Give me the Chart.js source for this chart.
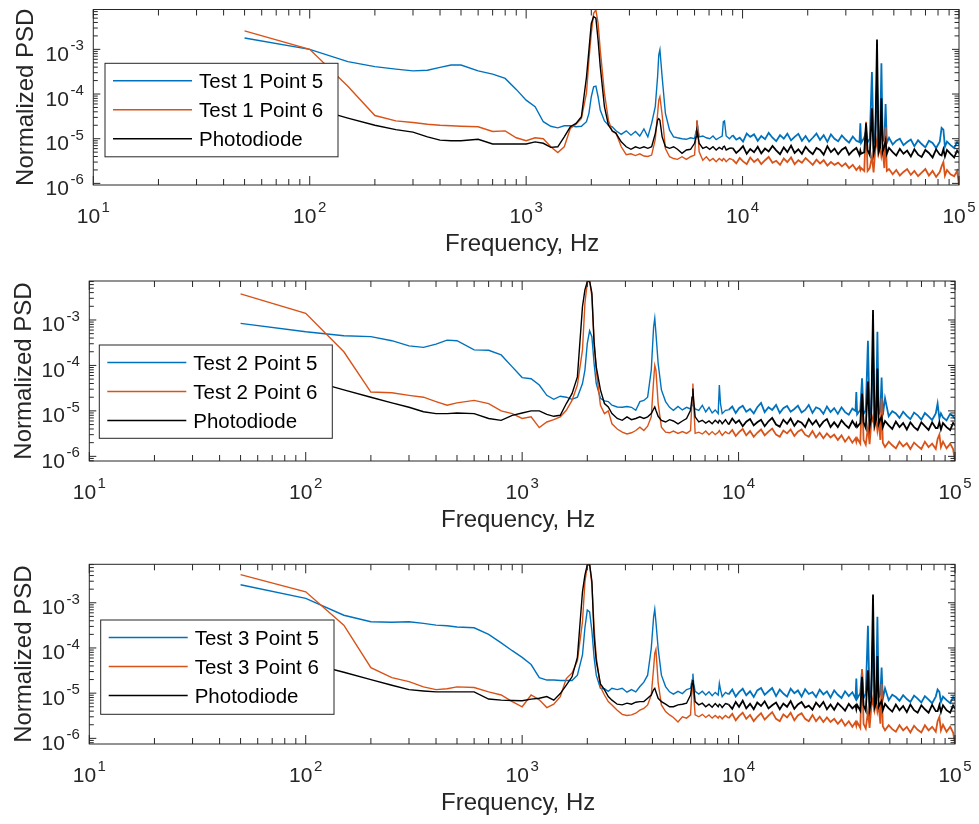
<!DOCTYPE html>
<html>
<head>
<meta charset="utf-8">
<script src="https://cdn.jsdelivr.net/npm/chart.js@4.4.0/dist/chart.umd.min.js"></script>
<style>
  body { margin: 0; background: #fff; }
  #wrap { position: relative; width: 979px; height: 824px; overflow: hidden; }
  canvas { position: absolute; left: 0; }
</style>
</head>
<body>
<div id="wrap">
  <canvas id="c1" width="979" height="270" style="top:0px"></canvas>
  <canvas id="c2" width="979" height="275" style="top:270px"></canvas>
  <canvas id="c3" width="979" height="279" style="top:545px"></canvas>
</div>
<script>
// frequency grid (Hz), shared by every trace
const freq = [
  50, 100, 150, 200, 250, 300, 350, 400, 450, 500,
  600, 700, 800, 900, 1000, 1100, 1200, 1300, 1400, 1500,
  1600, 1700, 1800, 1900, 1950, 2000, 2050, 2100, 2150, 2200,
  2300, 2400, 2500, 2600, 2750, 2900, 3050, 3200, 3350, 3500,
  3650, 3800, 3950, 4050, 4100, 4150, 4250, 4400, 4600, 4800,
  5000, 5250, 5500, 5750, 6000, 6100, 6150, 6200, 6300, 6550,
  6800, 7050, 7300, 7550, 7800, 8050, 8150, 8250, 8400, 8700,
  9000, 9350, 9700, 10050, 10450, 10850, 11300, 11750, 12200, 12700,
  13200, 13750, 14300, 14900, 15500, 16100, 16750, 17400, 18100, 18800,
  19550, 20300, 21100, 21950, 22800, 23700, 24650, 25600, 26600, 27650,
  28750, 29900, 31050, 32300, 33550, 34700, 35000, 35300, 36500, 37200,
  37800, 38700, 39600, 40300, 41000, 41800, 42500, 43200, 43800, 44400,
  45200, 45800, 46400, 47500, 49400, 51300, 53300, 55400, 57600, 59900,
  62200, 64700, 67200, 69900, 72600, 75500, 78400, 81500, 83100, 84700,
  86100, 88000, 91400, 95000, 98000, 100000
];

// ---- Test 1 ----
const p1Blue = [
  1.8e-3, 1.0e-3, 5.3e-4, 4.1e-4, 3.6e-4, 3.3e-4, 3.4e-4, 3.95e-4, 4.45e-4, 4.45e-4,
  3.3e-4, 2.8e-4, 2.24e-4, 1.27e-4, 7.3e-5, 5.2e-5, 2.4e-5, 1.9e-5, 1.75e-5, 1.95e-5,
  1.95e-5, 1.85e-5, 1.9e-5, 2.4e-5, 3.7e-5, 8.7e-5, 1.45e-4, 1.5e-4, 8.7e-5, 4.4e-5,
  2.5e-5, 2.0e-5, 1.85e-5, 1.5e-5, 1.25e-5, 1.5e-5, 1.2e-5, 1.45e-5, 1.15e-5, 1.65e-5,
  1.1e-5, 2.2e-5, 5.2e-5, 2.5e-4, 7.5e-4, 9.8e-4, 2.4e-4, 3.7e-5, 1.55e-5, 1.1e-5,
  1.05e-5, 1.0e-5, 9.7e-6, 1.05e-5, 1.0e-5, 1.5e-5, 2.5e-5, 1.9e-5, 1.1e-5, 1.15e-5,
  1.05e-5, 1.0e-5, 1.15e-5, 9.5e-6, 1.05e-5, 1.15e-5, 2.4e-5, 2.5e-5, 1.15e-5, 1.0e-5,
  1.2e-5, 9.5e-6, 1.05e-5, 8.6e-6, 1.3e-5, 1.1e-5, 1.25e-5, 9.0e-6, 1.15e-5, 9.8e-6,
  1.35e-5, 1.05e-5, 8.8e-6, 1.2e-5, 1.0e-5, 1.3e-5, 9.2e-6, 1.1e-5, 1.28e-5, 9.0e-6,
  1.15e-5, 8.6e-6, 1.05e-5, 1.3e-5, 9.4e-6, 1.2e-5, 8.5e-6, 1.25e-5, 1.0e-5, 8.8e-6,
  1.18e-5, 9.6e-6, 8.2e-6, 1.12e-5, 9.0e-6, 8.4e-6, 2.2e-5, 8.0e-6, 1.05e-5, 1.5e-5,
  8.2e-6, 1.0e-5, 3.1e-4, 7.8e-6, 1.05e-5, 2.0e-4, 8.4e-6, 1.05e-5, 4.9e-4, 8.8e-6,
  1.0e-5, 6.0e-5, 8.0e-6, 1.05e-5, 7.4e-6, 9.0e-6, 1.0e-5, 7.2e-6, 8.4e-6, 9.6e-6,
  6.8e-6, 9.2e-6, 7.6e-6, 6.4e-6, 9.0e-6, 8.0e-6, 6.2e-6, 8.6e-6, 1.75e-5, 1.6e-5,
  6.6e-6, 8.6e-6, 7.2e-6, 6.2e-6, 8.4e-6, 7.5e-6
];
const p1Orange = [
  2.6e-3, 1.0e-3, 1.5e-4, 3.3e-5, 2.5e-5, 2.3e-5, 2.1e-5, 2.0e-5, 1.95e-5, 1.9e-5,
  1.85e-5, 1.45e-5, 1.5e-5, 1.05e-5, 9.0e-6, 1.05e-5, 1.0e-5, 6.6e-6, 4.9e-6, 6.6e-6,
  1.7e-5, 2.1e-5, 2.85e-5, 1.05e-4, 5.8e-4, 2.3e-3, 6.4e-3, 7.6e-3, 3.8e-3, 9.6e-4,
  1.05e-4, 2.6e-5, 1.45e-5, 1.35e-5, 6.6e-6, 4.4e-6, 4.6e-6, 4.2e-6, 4.6e-6, 4.1e-6,
  4.0e-6, 4.3e-6, 9.6e-6, 3.7e-5, 7.3e-5, 8.7e-5, 3.4e-5, 6.0e-6, 3.95e-6, 3.6e-6,
  3.45e-6, 3.95e-6, 3.45e-6, 3.95e-6, 4.3e-6, 1.35e-5, 2.6e-5, 1.9e-5, 5.1e-6, 3.3e-6,
  3.95e-6, 3.2e-6, 3.6e-6, 3.05e-6, 3.6e-6, 3.2e-6, 3.6e-6, 3.45e-6, 3.05e-6, 3.6e-6,
  3.4e-6, 2.8e-6, 3.7e-6, 3.1e-6, 2.7e-6, 3.8e-6, 3.0e-6, 3.5e-6, 2.7e-6, 3.3e-6,
  3.9e-6, 2.9e-6, 3.2e-6, 2.6e-6, 3.6e-6, 3.0e-6, 3.8e-6, 2.7e-6, 3.3e-6, 2.9e-6,
  3.7e-6, 3.1e-6, 2.6e-6, 3.4e-6, 2.8e-6, 3.3e-6, 2.5e-6, 3.0e-6, 2.6e-6, 2.9e-6,
  2.4e-6, 2.8e-6, 2.2e-6, 2.6e-6, 2.0e-6, 2.4e-6, 2.0e-6, 2.2e-6, 1.9e-6, 2.4e-5,
  1.9e-6, 2.2e-6, 4.0e-6, 1.75e-6, 5.4e-6, 9.6e-6, 4.6e-6, 6.6e-6, 4.0e-6, 5.4e-6,
  2.2e-6, 1.8e-5, 1.9e-6, 2.1e-6, 1.6e-6, 2.0e-6, 1.5e-6, 1.8e-6, 2.1e-6, 1.55e-6,
  1.9e-6, 1.45e-6, 1.75e-6, 2.1e-6, 1.5e-6, 1.9e-6, 1.4e-6, 1.8e-6, 2.4e-6, 3.0e-6,
  1.5e-6, 2.0e-6, 1.6e-6, 1.45e-6, 1.9e-6, 9.2e-7
];
const p1Black = [
  8.0e-5, 5.1e-5, 2.9e-5, 2.0e-5, 1.6e-5, 1.4e-5, 1.1e-5, 9.3e-6, 9.0e-6, 9.0e-6,
  9.7e-6, 7.6e-6, 7.6e-6, 7.6e-6, 7.6e-6, 8.5e-6, 7.9e-6, 6.4e-6, 6.6e-6, 1.1e-5,
  1.85e-5, 2.2e-5, 3.1e-5, 2.4e-4, 9.6e-4, 3.8e-3, 5.4e-3, 5.0e-3, 1.6e-3, 4.1e-4,
  5.2e-5, 2.0e-5, 1.5e-5, 1.32e-5, 8.5e-6, 6.6e-6, 5.8e-6, 6.6e-6, 6.1e-6, 6.6e-6,
  6.1e-6, 6.6e-6, 1.3e-5, 2.6e-5, 2.8e-5, 2.6e-5, 1.1e-5, 6.6e-6, 6.1e-6, 6.6e-6,
  5.8e-6, 4.7e-6, 5.6e-6, 5.8e-6, 7.9e-6, 1.1e-5, 1.5e-5, 1.3e-5, 7.9e-6, 6.1e-6,
  6.6e-6, 5.8e-6, 6.6e-6, 5.6e-6, 6.4e-6, 5.8e-6, 6.6e-6, 6.8e-6, 5.6e-6, 6.1e-6,
  6.2e-6, 4.8e-6, 5.6e-6, 6.8e-6, 4.6e-6, 5.9e-6, 5.0e-6, 6.6e-6, 4.7e-6, 6.0e-6,
  5.2e-6, 6.9e-6, 5.5e-6, 4.5e-6, 6.4e-6, 5.0e-6, 7.0e-6, 4.8e-6, 5.8e-6, 4.6e-6,
  6.6e-6, 5.3e-6, 4.5e-6, 6.2e-6, 5.6e-6, 4.4e-6, 6.8e-6, 5.0e-6, 6.0e-6, 4.5e-6,
  5.7e-6, 6.4e-6, 4.4e-6, 5.4e-6, 6.2e-6, 4.3e-6, 5.4e-6, 4.6e-6, 5.0e-6, 2.2e-5,
  5.6e-6, 4.3e-6, 4.8e-5, 4.6e-6, 6.8e-6, 1.67e-3, 5.0e-6, 6.4e-6, 8.0e-5, 5.2e-6,
  6.8e-6, 9.0e-6, 4.6e-6, 6.2e-6, 5.0e-6, 4.2e-6, 5.9e-6, 4.6e-6, 5.4e-6, 4.0e-6,
  5.8e-6, 4.4e-6, 3.9e-6, 5.6e-6, 4.8e-6, 3.8e-6, 5.8e-6, 4.4e-6, 4.2e-6, 5.8e-6,
  4.0e-6, 5.6e-6, 4.6e-6, 3.8e-6, 5.4e-6, 4.7e-6
];

// ---- Test 2 ----
const p2Blue = [
  8.4e-4, 5.5e-4, 4.5e-4, 4.3e-4, 3.5e-4, 2.7e-4, 2.5e-4, 2.95e-4, 3.6e-4, 3.5e-4,
  2.2e-4, 2.15e-4, 1.7e-4, 9.3e-5, 5.4e-5, 5.1e-5, 3.7e-5, 2.2e-5, 1.8e-5, 2.1e-5,
  2.0e-5, 1.8e-5, 2.0e-5, 4.0e-5, 7.9e-5, 3.05e-4, 5.8e-4, 4.3e-4, 1.1e-4, 4.0e-5,
  1.9e-5, 1.66e-5, 1.6e-5, 1.33e-5, 1.22e-5, 1.2e-5, 1.25e-5, 1.2e-5, 1.03e-5, 1.6e-5,
  1.7e-5, 2.0e-5, 7.9e-5, 7.1e-4, 1.09e-3, 5.2e-4, 1.1e-4, 2.9e-5, 1.6e-5, 1.2e-5,
  1.03e-5, 1.25e-5, 1.05e-5, 1.2e-5, 1.1e-5, 1.33e-5, 1.6e-5, 1.33e-5, 1.1e-5, 1.03e-5,
  1.33e-5, 9.5e-6, 1.2e-5, 9.0e-6, 1.05e-5, 8.7e-6, 3.7e-5, 1.45e-5, 8.7e-6, 1.03e-5,
  1.05e-5, 1.25e-5, 9.0e-6, 1.15e-5, 1.3e-5, 9.6e-6, 1.1e-5, 8.8e-6, 1.2e-5, 1.5e-5,
  9.4e-6, 1.2e-5, 1.05e-5, 1.35e-5, 9.0e-6, 1.15e-5, 1.28e-5, 9.6e-6, 1.1e-5, 1.3e-5,
  9.2e-6, 1.05e-5, 1.35e-5, 9.0e-6, 1.2e-5, 1.1e-5, 8.6e-6, 1.25e-5, 9.4e-6, 1.15e-5,
  8.6e-6, 1.2e-5, 9.4e-6, 8.2e-6, 1.12e-5, 1.0e-5, 2.6e-5, 8.4e-6, 1.05e-5, 5.2e-5,
  8.6e-6, 1.02e-5, 3.5e-4, 7.8e-6, 1.05e-5, 2.0e-4, 8.2e-6, 1.0e-5, 5.5e-4, 8.4e-6,
  1.02e-5, 5.4e-5, 8.0e-6, 1.9e-5, 7.6e-6, 9.8e-6, 8.8e-6, 7.0e-6, 9.6e-6, 7.8e-6,
  6.6e-6, 9.2e-6, 8.0e-6, 6.4e-6, 9.0e-6, 7.6e-6, 6.3e-6, 8.8e-6, 1.45e-5, 6.8e-6,
  8.8e-6, 7.2e-6, 6.2e-6, 8.6e-6, 7.6e-6, 6.6e-6
];
const p2Orange = [
  3.75e-3, 1.4e-3, 2.0e-4, 2.6e-5, 2.5e-5, 2.2e-5, 2.0e-5, 1.6e-5, 1.33e-5, 1.5e-5,
  1.7e-5, 1.45e-5, 1.0e-5, 8.7e-6, 6.8e-6, 7.4e-6, 4.3e-6, 5.7e-6, 6.4e-6, 7.4e-6,
  1.03e-5, 1.7e-5, 3.7e-5, 2.2e-4, 2.3e-3, 6.8e-3, 7.2e-3, 3.3e-3, 3.6e-4, 7.9e-5,
  1.33e-5, 8.7e-6, 1.0e-5, 5.2e-6, 4.0e-6, 3.4e-6, 3.1e-6, 3.3e-6, 3.7e-6, 4.4e-6,
  3.7e-6, 4.6e-6, 7.4e-6, 4.7e-5, 1.0e-4, 7.9e-5, 1.45e-5, 4.4e-6, 3.4e-6, 3.3e-6,
  3.6e-6, 3.2e-6, 3.5e-6, 3.2e-6, 3.7e-6, 2.0e-5, 4.0e-5, 1.45e-5, 3.2e-6, 3.4e-6,
  3.1e-6, 3.6e-6, 3.0e-6, 3.5e-6, 3.0e-6, 3.4e-6, 3.7e-6, 3.3e-6, 2.9e-6, 3.5e-6,
  3.1e-6, 3.8e-6, 2.8e-6, 3.4e-6, 4.0e-6, 2.9e-6, 3.6e-6, 2.7e-6, 3.3e-6, 3.9e-6,
  2.9e-6, 3.5e-6, 4.1e-6, 3.0e-6, 2.7e-6, 3.7e-6, 3.2e-6, 3.9e-6, 2.8e-6, 3.5e-6,
  3.9e-6, 3.0e-6, 2.7e-6, 3.6e-6, 2.6e-6, 3.3e-6, 2.5e-6, 3.2e-6, 2.6e-6, 3.0e-6,
  2.3e-6, 2.9e-6, 2.1e-6, 2.7e-6, 2.0e-6, 2.5e-6, 2.1e-6, 2.5e-6, 1.9e-6, 2.4e-5,
  2.3e-6, 1.8e-6, 4.4e-6, 1.85e-6, 5.2e-6, 7.4e-6, 4.4e-6, 6.8e-6, 3.7e-6, 5.7e-6,
  2.3e-6, 1.9e-5, 2.0e-6, 1.6e-6, 2.1e-6, 1.75e-6, 1.5e-6, 2.1e-6, 1.65e-6, 1.95e-6,
  1.45e-6, 2.0e-6, 1.7e-6, 1.45e-6, 2.1e-6, 1.6e-6, 1.9e-6, 1.45e-6, 2.4e-6, 3.0e-6,
  1.6e-6, 2.1e-6, 1.5e-6, 1.9e-6, 1.45e-6, 7.9e-7
];
const p2Black = [
  9.0e-5, 5.0e-5, 2.9e-5, 2.0e-5, 1.5e-5, 1.2e-5, 9.6e-6, 8.7e-6, 8.7e-6, 9.0e-6,
  8.7e-6, 6.8e-6, 6.2e-6, 8.0e-6, 9.0e-6, 1.0e-5, 1.0e-5, 8.4e-6, 7.6e-6, 8.0e-6,
  1.45e-5, 2.4e-5, 5.6e-5, 1.97e-3, 4.6e-3, 7.0e-3, 7.2e-3, 3.9e-3, 3.05e-4, 9.3e-5,
  2.9e-5, 1.45e-5, 1.22e-5, 8.7e-6, 6.8e-6, 6.2e-6, 7.4e-6, 6.4e-6, 6.8e-6, 7.4e-6,
  6.8e-6, 7.4e-6, 8.7e-6, 1.1e-5, 1.22e-5, 1.03e-5, 7.6e-6, 6.2e-6, 5.7e-6, 6.4e-6,
  6.0e-6, 5.2e-6, 6.0e-6, 6.8e-6, 1.03e-5, 2.0e-5, 3.1e-5, 1.7e-5, 7.4e-6, 5.7e-6,
  6.2e-6, 5.4e-6, 6.0e-6, 5.2e-6, 6.2e-6, 5.4e-6, 6.2e-6, 6.0e-6, 5.2e-6, 6.4e-6,
  5.0e-6, 6.8e-6, 5.4e-6, 6.2e-6, 4.6e-6, 5.8e-6, 6.6e-6, 4.8e-6, 5.6e-6, 6.4e-6,
  4.6e-6, 5.9e-6, 7.0e-6, 5.0e-6, 4.5e-6, 6.4e-6, 5.2e-6, 6.8e-6, 4.7e-6, 6.0e-6,
  5.5e-6, 4.4e-6, 6.6e-6, 5.0e-6, 6.2e-6, 4.5e-6, 5.8e-6, 6.6e-6, 4.4e-6, 5.6e-6,
  4.4e-6, 6.2e-6, 5.0e-6, 4.2e-6, 6.0e-6, 4.6e-6, 5.2e-6, 4.4e-6, 5.4e-6, 2.4e-5,
  5.6e-6, 4.2e-6, 4.4e-5, 4.4e-6, 6.8e-6, 1.66e-3, 4.8e-6, 6.4e-6, 8.6e-5, 5.2e-6,
  6.6e-6, 7.4e-6, 4.4e-6, 6.0e-6, 4.8e-6, 4.0e-6, 5.8e-6, 4.4e-6, 5.4e-6, 3.9e-6,
  5.6e-6, 4.4e-6, 3.8e-6, 5.6e-6, 4.6e-6, 3.8e-6, 5.6e-6, 4.2e-6, 4.2e-6, 5.6e-6,
  3.9e-6, 5.4e-6, 4.4e-6, 3.8e-6, 5.4e-6, 4.8e-6
];

// ---- Test 3 ----
const p3Blue = [
  2.5e-3, 1.25e-3, 5.3e-4, 3.8e-4, 3.7e-4, 3.8e-4, 3.5e-4, 3.2e-4, 3.1e-4, 2.9e-4,
  2.8e-4, 2.0e-4, 1.3e-4, 8.7e-5, 6.2e-5, 4.3e-5, 2.2e-5, 1.95e-5, 1.95e-5, 1.9e-5,
  1.9e-5, 1.9e-5, 2.5e-5, 7.0e-5, 2.8e-4, 6.9e-4, 6.3e-4, 2.4e-4, 6.2e-5, 2.5e-5,
  1.28e-5, 1.25e-5, 1.1e-5, 1.28e-5, 1.2e-5, 1.28e-5, 1.05e-5, 1.2e-5, 1.07e-5, 1.4e-5,
  1.75e-5, 2.5e-5, 9.8e-5, 4.9e-4, 7.2e-4, 3.8e-4, 9.8e-5, 2.5e-5, 1.4e-5, 1.07e-5,
  9.5e-6, 1.1e-5, 9.8e-6, 1.2e-5, 1.28e-5, 1.95e-5, 2.7e-5, 1.65e-5, 1.1e-5, 9.5e-6,
  1.1e-5, 9.1e-6, 1.07e-5, 8.8e-6, 1.04e-5, 9.1e-6, 1.65e-5, 1.2e-5, 8.4e-6, 1.04e-5,
  9.4e-6, 1.2e-5, 8.4e-6, 1.05e-5, 1.25e-5, 9.0e-6, 1.1e-5, 8.2e-6, 1.15e-5, 1.3e-5,
  9.2e-6, 1.1e-5, 1.3e-5, 8.6e-6, 1.2e-5, 9.8e-6, 8.4e-6, 1.25e-5, 1.0e-5, 1.15e-5,
  8.4e-6, 1.22e-5, 9.6e-6, 1.05e-5, 8.2e-6, 1.2e-5, 9.4e-6, 1.1e-5, 8.0e-6, 1.15e-5,
  9.2e-6, 7.8e-6, 1.1e-5, 8.6e-6, 1.05e-5, 7.6e-6, 2.1e-5, 7.6e-6, 1.0e-5, 3.3e-5,
  7.8e-6, 9.6e-6, 3.1e-4, 7.4e-6, 1.0e-5, 2.0e-4, 7.8e-6, 9.6e-6, 4.9e-4, 8.0e-6,
  9.6e-6, 3.7e-5, 7.4e-6, 1.28e-5, 7.0e-6, 9.2e-6, 8.2e-6, 6.8e-6, 9.0e-6, 7.4e-6,
  6.4e-6, 8.8e-6, 7.6e-6, 6.2e-6, 8.6e-6, 7.2e-6, 6.0e-6, 8.4e-6, 1.2e-5, 1.07e-5,
  6.4e-6, 8.4e-6, 7.0e-6, 6.0e-6, 8.2e-6, 7.0e-6
];
const p3Orange = [
  4.2e-3, 1.75e-3, 3.2e-4, 3.65e-5, 2.2e-5, 1.8e-5, 1.38e-5, 1.2e-5, 1.25e-5, 1.38e-5,
  1.33e-5, 1.07e-5, 9.1e-6, 6.5e-6, 5.0e-6, 9.1e-6, 7.1e-6, 4.8e-6, 5.7e-6, 8.4e-6,
  2.1e-5, 2.8e-5, 5.2e-5, 3.8e-4, 2.9e-3, 6.6e-3, 7.1e-3, 2.5e-3, 2.8e-4, 6.2e-5,
  1.38e-5, 9.1e-6, 6.5e-6, 5.5e-6, 4.2e-6, 3.4e-6, 3.2e-6, 3.3e-6, 3.6e-6, 4.2e-6,
  4.6e-6, 5.5e-6, 9.1e-6, 3.6e-5, 7.7e-5, 9.3e-5, 1.7e-5, 5.5e-6, 3.9e-6, 3.3e-6,
  2.9e-6, 2.3e-6, 3.0e-6, 2.8e-6, 3.3e-6, 1.4e-5, 1.7e-5, 9.1e-6, 3.3e-6, 3.0e-6,
  3.4e-6, 2.9e-6, 3.3e-6, 2.8e-6, 3.2e-6, 2.8e-6, 3.1e-6, 3.0e-6, 2.7e-6, 3.2e-6,
  2.8e-6, 3.5e-6, 2.5e-6, 3.1e-6, 3.7e-6, 2.7e-6, 3.3e-6, 2.4e-6, 3.0e-6, 3.6e-6,
  2.6e-6, 3.2e-6, 3.8e-6, 2.7e-6, 2.4e-6, 3.4e-6, 2.9e-6, 3.7e-6, 2.5e-6, 3.2e-6,
  3.6e-6, 2.7e-6, 2.4e-6, 3.3e-6, 2.4e-6, 3.0e-6, 2.3e-6, 2.9e-6, 2.3e-6, 2.7e-6,
  2.1e-6, 2.6e-6, 1.9e-6, 2.4e-6, 1.8e-6, 2.3e-6, 1.9e-6, 2.3e-6, 1.7e-6, 3.4e-5,
  2.1e-6, 1.65e-6, 3.9e-6, 1.7e-6, 4.6e-6, 7.7e-6, 4.2e-6, 6.5e-6, 3.9e-6, 5.3e-6,
  2.1e-6, 1.6e-5, 1.85e-6, 1.5e-6, 1.95e-6, 1.6e-6, 1.4e-6, 1.95e-6, 1.5e-6, 1.8e-6,
  1.35e-6, 1.9e-6, 1.55e-6, 1.35e-6, 1.95e-6, 1.5e-6, 1.8e-6, 1.4e-6, 2.4e-6, 3.0e-6,
  1.5e-6, 2.0e-6, 1.4e-6, 1.8e-6, 1.35e-6, 7.5e-7
];
const p3Black = [
  8.0e-5, 4.8e-5, 2.9e-5, 2.0e-5, 1.5e-5, 1.2e-5, 1.12e-5, 1.07e-5, 1.07e-5, 1.07e-5,
  1.07e-5, 7.4e-6, 7.0e-6, 6.9e-6, 6.8e-6, 7.4e-6, 7.7e-6, 8.4e-6, 7.0e-6, 9.8e-6,
  1.5e-5, 2.3e-5, 6.2e-5, 1.75e-3, 4.1e-3, 6.9e-3, 7.1e-3, 3.0e-3, 1.8e-4, 5.2e-5,
  1.6e-5, 1.2e-5, 8.4e-6, 7.0e-6, 5.7e-6, 5.5e-6, 6.0e-6, 5.7e-6, 6.3e-6, 6.5e-6,
  6.5e-6, 7.7e-6, 9.1e-6, 1.2e-5, 1.28e-5, 1.07e-5, 7.7e-6, 6.5e-6, 5.7e-6, 5.0e-6,
  5.0e-6, 5.5e-6, 5.7e-6, 6.0e-6, 9.1e-6, 1.65e-5, 1.95e-5, 1.4e-5, 6.5e-6, 5.5e-6,
  6.0e-6, 5.0e-6, 5.7e-6, 4.9e-6, 5.9e-6, 5.0e-6, 5.7e-6, 5.5e-6, 4.8e-6, 5.9e-6,
  5.6e-6, 4.5e-6, 6.4e-6, 5.0e-6, 6.8e-6, 4.6e-6, 5.8e-6, 4.4e-6, 6.2e-6, 5.2e-6,
  6.6e-6, 4.6e-6, 5.4e-6, 6.2e-6, 4.4e-6, 5.9e-6, 5.0e-6, 6.7e-6, 4.5e-6, 5.6e-6,
  6.4e-6, 4.8e-6, 5.3e-6, 4.3e-6, 6.2e-6, 5.0e-6, 6.4e-6, 4.4e-6, 5.6e-6, 4.3e-6,
  6.0e-6, 5.0e-6, 4.1e-6, 5.8e-6, 4.6e-6, 5.4e-6, 4.4e-6, 5.5e-6, 4.1e-6, 2.3e-5,
  5.4e-6, 4.1e-6, 3.2e-5, 4.2e-6, 6.6e-6, 1.53e-3, 4.8e-6, 6.0e-6, 6.6e-5, 5.0e-6,
  6.0e-6, 6.7e-6, 4.2e-6, 5.8e-6, 4.6e-6, 3.9e-6, 5.6e-6, 4.2e-6, 5.2e-6, 3.8e-6,
  5.6e-6, 4.2e-6, 3.7e-6, 5.4e-6, 4.4e-6, 3.7e-6, 5.5e-6, 4.0e-6, 4.0e-6, 5.5e-6,
  3.8e-6, 5.4e-6, 4.2e-6, 3.7e-6, 5.3e-6, 4.5e-6
];

const seriesNames1 = ['Test 1 Point 5', 'Test 1 Point 6', 'Photodiode'];
const seriesNames2 = ['Test 2 Point 5', 'Test 2 Point 6', 'Photodiode'];
const seriesNames3 = ['Test 3 Point 5', 'Test 3 Point 6', 'Photodiode'];

// tick labels: powers of ten
const xTickExp = [1, 2, 3, 4, 5];
const yTickExp = [-6, -5, -4, -3];

const COLORS = ['#0072BD', '#D95319', '#000000'];
const AXIS = '#262626';
const FONT = "'Liberation Sans', Arial, Helvetica, sans-serif";

function pts(vals) {
  return freq.map((f, i) => ({ x: f, y: vals[i] }));
}

function powLabel(ctx, exp, x, y, align) {
  ctx.font = '21px ' + FONT;
  const w10 = ctx.measureText('10').width;
  ctx.font = '15px ' + FONT;
  const e = String(exp);
  const we = ctx.measureText(e).width;
  const total = w10 + 1.5 + we;
  const start = align === 'right' ? x - total : x - total / 2;
  ctx.textAlign = 'left';
  ctx.textBaseline = 'alphabetic';
  ctx.font = '21px ' + FONT;
  ctx.fillText('10', start, y);
  ctx.font = '15px ' + FONT;
  ctx.fillText(e, start + w10 + 1.5, y - 10.5);
}

// draws the MATLAB-style box, inward ticks, labels and legend
const matlabAxes = {
  id: 'matlabAxes',
  afterDraw(chart, args, o) {
    const ctx = chart.ctx;
    const a = chart.chartArea;
    const xs = chart.scales.x, ys = chart.scales.y;
    ctx.save();
    ctx.strokeStyle = AXIS;
    ctx.lineWidth = 1;

    ctx.beginPath();
    for (let n = 1; n <= 5; n++) {
      for (let k = 1; k <= 9; k++) {
        const v = k * Math.pow(10, n);
        if (v > 1e5 * 1.0001) break;
        const px = xs.getPixelForValue(v);
        const len = k === 1 ? 9 : 6;
        ctx.moveTo(px, a.bottom); ctx.lineTo(px, a.bottom - len);
        ctx.moveTo(px, a.top); ctx.lineTo(px, a.top + len);
      }
    }
    for (let n = -7; n <= -2; n++) {
      for (let k = 1; k <= 9; k++) {
        const v = k * Math.pow(10, n);
        if (v < ys.min || v > ys.max) continue;
        const py = ys.getPixelForValue(v);
        const len = k === 1 ? 7 : 4.5;
        ctx.moveTo(a.left, py); ctx.lineTo(a.left + len, py);
        ctx.moveTo(a.right, py); ctx.lineTo(a.right - len, py);
      }
    }
    ctx.stroke();
    ctx.strokeRect(a.left, a.top, a.right - a.left, a.bottom - a.top);

    // tick labels
    ctx.fillStyle = AXIS;
    xTickExp.forEach(e => {
      powLabel(ctx, e, xs.getPixelForValue(Math.pow(10, e)), a.bottom + 37.5, 'center');
    });
    yTickExp.forEach(e => {
      powLabel(ctx, e, a.left - 9.5, ys.getPixelForValue(Math.pow(10, e)) + 11.5, 'right');
    });

    // axis titles
    ctx.font = '24px ' + FONT;
    ctx.textAlign = 'center';
    ctx.textBaseline = 'alphabetic';
    ctx.fillText('Frequency, Hz', (a.left + a.right) / 2 - 4, a.bottom + 66);
    ctx.save();
    ctx.translate(o.yTitleX, (a.top + a.bottom) / 2);
    ctx.rotate(-Math.PI / 2);
    ctx.fillText('Normalized PSD', 0, 8.5);
    ctx.restore();

    // legend
    const L = o.legend;
    ctx.fillStyle = '#ffffff';
    ctx.fillRect(L.x, L.y, L.w, L.h);
    ctx.strokeStyle = AXIS;
    ctx.strokeRect(L.x, L.y, L.w, L.h);
    ctx.font = '20.5px ' + FONT;
    ctx.textAlign = 'left';
    chart.data.datasets.forEach((ds, i) => {
      const ry = L.y + 17.5 + i * 29;
      ctx.strokeStyle = ds.borderColor;
      ctx.lineWidth = 1.4;
      ctx.beginPath();
      ctx.moveTo(L.x + 8, ry); ctx.lineTo(L.x + 87, ry);
      ctx.stroke();
      ctx.fillStyle = '#000000';
      ctx.fillText(ds.label, L.x + 94, ry + 7.3);
    });
    ctx.restore();
  }
};

function makePanel(id, names, blue, orange, black, cfg) {
  const vals = [blue, orange, black];
  new Chart(document.getElementById(id), {
    type: 'line',
    data: {
      datasets: vals.map((v, i) => ({
        label: names[i],
        data: pts(v),
        borderColor: COLORS[i],
        borderWidth: 1.4,
        pointRadius: 0,
        tension: 0,
        fill: false,
        order: 2 - i,
        // the dense high-frequency part reads as a heavier band
        segment: { borderWidth: c => (c.p0.parsed.x >= 9000 ? 1.8 : 1.4) }
      }))
    },
    options: {
      responsive: false,
      animation: false,
      devicePixelRatio: 1,
      layout: { padding: cfg.pad },
      plugins: {
        legend: { display: false },
        tooltip: { enabled: false },
        matlabAxes: { legend: cfg.legend, yTitleX: cfg.yTitleX }
      },
      scales: {
        x: { type: 'logarithmic', min: 10, max: 1e5, display: false },
        y: { type: 'logarithmic', min: cfg.ymin, max: cfg.ymax, display: false }
      }
    },
    plugins: [matlabAxes]
  });
}

makePanel('c1', seriesNames1, p1Blue, p1Orange, p1Black, {
  ymin: 9.2e-7, ymax: 7.8e-3,
  pad: { left: 93.3, top: 9.5, right: 20, bottom: 85 },
  legend: { x: 105, y: 63.3, w: 233, h: 93.5 },
  yTitleX: 24
});
makePanel('c2', seriesNames2, p2Blue, p2Orange, p2Black, {
  ymin: 7.9e-7, ymax: 7.2e-3,
  pad: { left: 89.3, top: 11, right: 24, bottom: 84 },
  legend: { x: 99.3, y: 75, w: 233, h: 93.3 },
  yTitleX: 22.5
});
makePanel('c3', seriesNames3, p3Blue, p3Orange, p3Black, {
  ymin: 7.5e-7, ymax: 7.1e-3,
  pad: { left: 89.3, top: 19.3, right: 24, bottom: 80 },
  legend: { x: 100.7, y: 75, w: 233.3, h: 94.3 },
  yTitleX: 22.5
});
</script>
</body>
</html>
